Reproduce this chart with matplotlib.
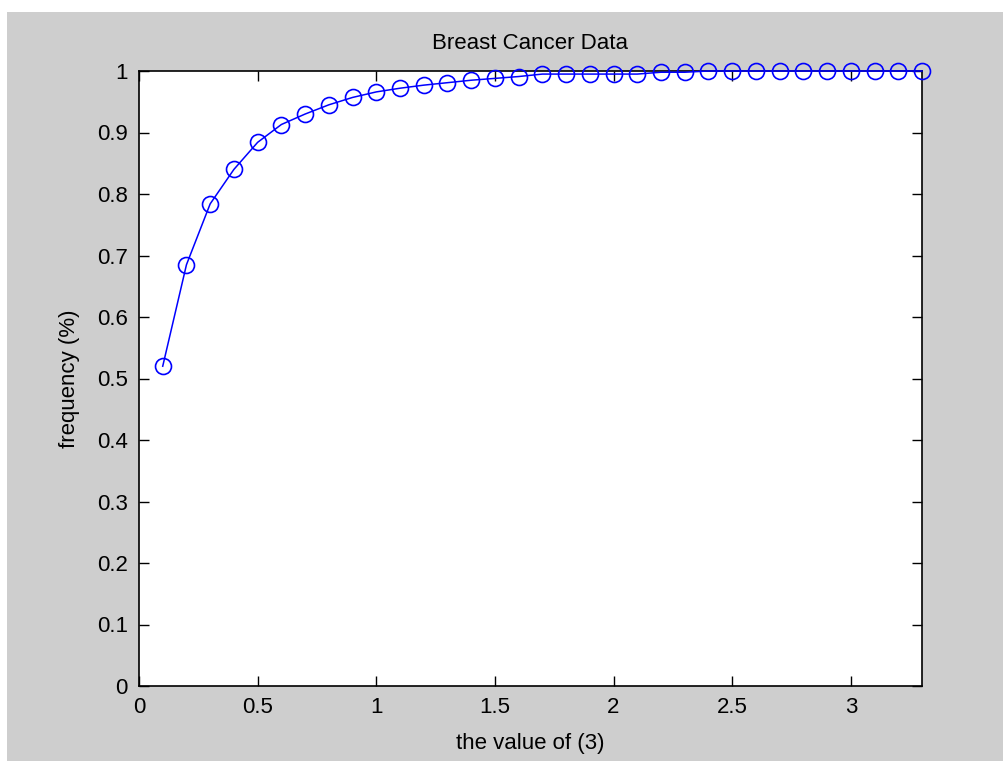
import matplotlib
matplotlib.use("Agg")
import matplotlib.pyplot as plt
from matplotlib.patches import Rectangle

x_values = [0.1, 0.2, 0.3, 0.4, 0.5, 0.6, 0.7, 0.8, 0.9, 1.0, 1.1,
            1.2, 1.3, 1.4, 1.5, 1.6, 1.7, 1.8, 1.9, 2.0, 2.1, 2.2,
            2.3, 2.4, 2.5, 2.6, 2.7, 2.8, 2.9, 3.0, 3.1, 3.2, 3.3]
frequency = [0.520, 0.685, 0.784, 0.840, 0.884, 0.913, 0.930, 0.945, 0.957, 0.966, 0.972,
             0.977, 0.981, 0.985, 0.988, 0.991, 0.995, 0.995, 0.995, 0.995, 0.995, 0.998,
             0.998, 1.0, 1.0, 1.0, 1.0, 1.0, 1.0, 1.0, 1.0, 1.0, 1.0]
x_ticks = [0, 0.5, 1, 1.5, 2, 2.5, 3]
x_tick_labels = ["0", "0.5", "1", "1.5", "2", "2.5", "3"]
y_ticks = [0, 0.1, 0.2, 0.3, 0.4, 0.5, 0.6, 0.7, 0.8, 0.9, 1]
y_tick_labels = ["0", "0.1", "0.2", "0.3", "0.4", "0.5", "0.6", "0.7", "0.8", "0.9", "1"]

plt.rcParams['font.family'] = ['Liberation Sans Narrow', 'Liberation Sans', 'DejaVu Sans']

W, H = 1004, 761
fig = plt.figure(figsize=(W / 100, H / 100), dpi=100, facecolor="white")
fig.patches.append(Rectangle((7 / W, 0), 1 - 7 / W, 1 - 12 / H, transform=fig.transFigure,
                             facecolor="#cecece", edgecolor="none", zorder=-10))

left, right, top, bottom = 139, 922, 71, 686
ax = fig.add_axes([left / W, 1 - bottom / H, (right - left) / W, (bottom - top) / H])
ax.set_facecolor("white")
ax.plot(x_values, frequency, color="blue", lw=1.1, marker="o", ms=11.5,
        mfc="none", mec="blue", mew=1.2, clip_on=False, zorder=3)
ax.set_xlim(0, 3.3)
ax.set_ylim(0, 1)
ax.set_xticks(x_ticks)
ax.set_xticklabels(x_tick_labels)
ax.set_yticks(y_ticks)
ax.set_yticklabels(y_tick_labels)
ax.tick_params(direction="in", top=True, right=True, length=7, width=1,
               labelsize=16, colors="black", pad=8)
for s in ax.spines.values():
    s.set_linewidth(1.2)
    s.set_color("black")
ax.set_title("Breast Cancer Data", fontsize=16, pad=16)
ax.set_xlabel("the value of (3)", fontsize=16, labelpad=11)
ax.set_ylabel("frequency (%)", fontsize=16, labelpad=12)

fig.savefig("out.png", dpi=100, facecolor=fig.get_facecolor())
